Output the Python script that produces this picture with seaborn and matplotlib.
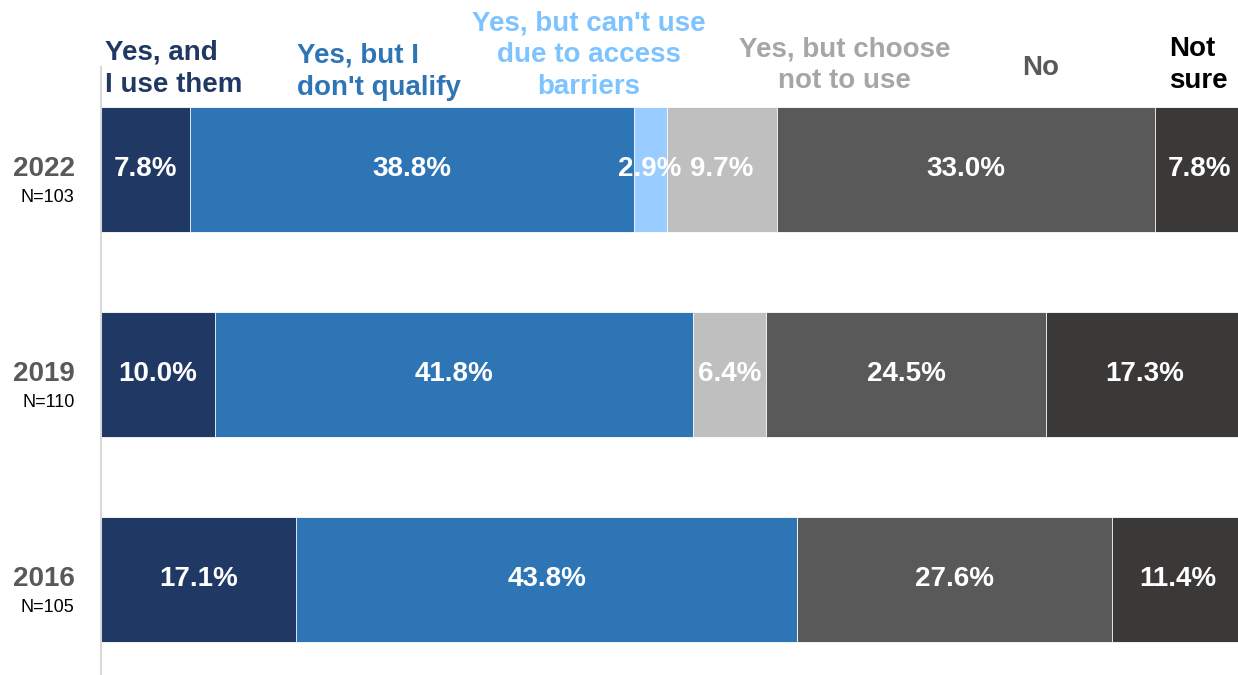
import numpy as np
import seaborn as sns
import matplotlib.pyplot as plt

# ---------------------------------------
# Data
# ---------------------------------------
years = ["2022", "2019", "2016"]
sample_sizes = ["N=103", "N=110", "N=105"]
categories = [
    "Yes, and\nI use them",
    "Yes, but I\ndon't qualify",
    "Yes, but can't use\ndue to access\nbarriers",
    "Yes, but choose\nnot to use",
    "No",
    "Not\nsure",
]
yes_use = [7.8, 10.0, 17.1]
yes_not_qualify = [38.8, 41.8, 43.8]
yes_access_barriers = [2.9, 0.0, 0.0]
yes_choose_not = [9.7, 6.4, 0.0]
no = [33.0, 24.5, 27.6]
not_sure = [7.8, 17.3, 11.4]

series = [yes_use, yes_not_qualify, yes_access_barriers, yes_choose_not, no, not_sure]

bar_colors = ["#203864", "#2E75B6", "#99CCFF", "#BFBFBF", "#595959", "#3B3838"]
header_colors = ["#203864", "#2E75B6", "#7DC3FF", "#A6A6A6", "#595959", "#000000"]

# ---------------------------------------
# Figure
# ---------------------------------------
sns.set_style("white")
plt.rcParams["font.family"] = ["Liberation Sans", "DejaVu Sans"]

fig = plt.figure(figsize=(12.38, 6.75), dpi=100)
ax = fig.add_axes([101 / 1238, 0, 1137 / 1238, 608 / 675])

values = np.array(series)
cum = np.cumsum(values, axis=0)

# draw cumulative totals from widest to narrowest so segments stack
for i in range(len(series) - 1, -1, -1):
    sns.barplot(x=cum[i], y=years, order=years, orient="h", color=bar_colors[i],
                width=0.61, edgecolor="white", linewidth=0.6, saturation=1, ax=ax)

# value labels
for i, vals in enumerate(series):
    starts = cum[i] - values[i]
    for j, v in enumerate(vals):
        if v <= 0:
            continue
        ax.text(starts[j] + v / 2, j, f"{v:.1f}%", ha="center", va="center",
                color="white", fontsize=20, fontweight="bold")

# year labels
for j, (yr, n) in enumerate(zip(years, sample_sizes)):
    ax.text(-2.3, j, yr, ha="right", va="center", color="#595959",
            fontsize=20, fontweight="bold")
    ax.text(-2.3, j + 0.135, n, ha="right", va="center", color="black", fontsize=13)

# category headers
header_x = [0.35, 17.15, 42.7, 65.1, 82.2, 93.5]
header_y = [0.997, 0.992, 1.019, 1.003, 0.999, 1.003]
header_ha = ["left", "left", "center", "center", "center", "left"]
trans = ax.get_xaxis_transform()
for k, label in enumerate(categories):
    ax.text(header_x[k], header_y[k], label, transform=trans, ha=header_ha[k],
            va="center", multialignment=header_ha[k], color=header_colors[k],
            fontsize=20, fontweight="bold", linespacing=1.3, clip_on=False)

ax.set_xlim(0, 99.5)
ax.set_ylim(2.466, -0.5)
ax.set(xlabel="", ylabel="")
ax.set_xticks([])
ax.set_yticks([])
sns.despine(ax=ax, top=True, right=True, bottom=True, left=False)
ax.spines["left"].set_color("#D9D9D9")
ax.spines["left"].set_linewidth(1.5)

fig.savefig("out.png", dpi=100)
